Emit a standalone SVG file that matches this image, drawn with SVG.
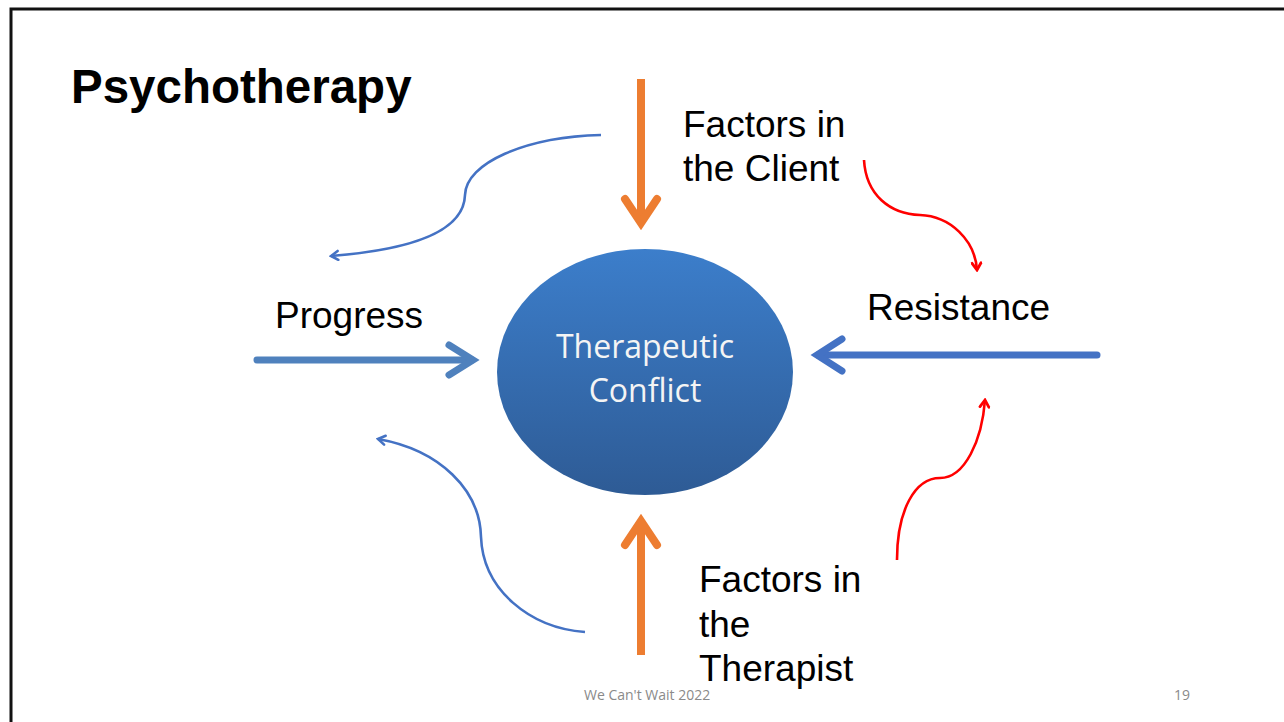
<svg xmlns="http://www.w3.org/2000/svg" width="1284" height="722" viewBox="0 0 1284 722">
  <defs>
    <linearGradient id="ballFill" x1="0" y1="0" x2="0" y2="1">
      <stop offset="0" stop-color="#3C7ECB"/>
      <stop offset="1" stop-color="#2E5B95"/>
    </linearGradient>
    <marker id="headBlue" viewBox="0 0 12 12" refX="10" refY="6" markerWidth="12" markerHeight="12" markerUnits="userSpaceOnUse" orient="auto">
      <polyline points="3,1.5 10,6 3,10.5" fill="none" stroke="#4472C4" stroke-width="2.6" stroke-linecap="round" stroke-linejoin="miter"/>
    </marker>
    <marker id="headRed" viewBox="0 0 12 12" refX="10" refY="6" markerWidth="12" markerHeight="12" markerUnits="userSpaceOnUse" orient="auto">
      <polyline points="3,1.5 10,6 3,10.5" fill="none" stroke="#FF0000" stroke-width="2.8" stroke-linecap="round" stroke-linejoin="miter"/>
    </marker>
  </defs>
  <style>
    .lbl { font-family: "Liberation Sans", Arial, sans-serif; font-size: 37px; fill: #000; }
    .title { font-family: "Liberation Sans", Arial, sans-serif; font-size: 47.5px; font-weight: bold; fill: #000; }
    .inner { font-family: "Open Sans", "Noto Sans", sans-serif; font-size: 32px; fill: #F4F4F4; text-anchor: middle; }
    .foot { font-family: "Open Sans", "Noto Sans", sans-serif; font-size: 14px; fill: #8A8A8A; }
    .thick { fill: none; stroke-width: 7; stroke-linecap: round; stroke-linejoin: miter; }
    .orange { stroke: #ED7D31; stroke-width: 8; }
    .thin { fill: none; stroke-width: 2.6; }
  </style>

  <rect width="1284" height="722" fill="#FFFFFF"/>
  <!-- slide frame -->
  <path d="M11,722 V9 H1284" fill="none" stroke="#111" stroke-width="3"/>

  <text class="title" x="71" y="103">Psychotherapy</text>

  <g id="conflict">
    <ellipse cx="645" cy="372" rx="148" ry="123" fill="url(#ballFill)"/>
    <text class="inner" x="645" y="358">Therapeutic</text>
    <text class="inner" x="645" y="402">Conflict</text>
  </g>

  <g id="client">
    <text class="lbl" x="683" y="137">Factors in</text>
    <text class="lbl" x="683" y="181">the Client</text>
  </g>

  <g id="therapist">
    <text class="lbl" x="699" y="592">Factors in</text>
    <text class="lbl" x="699" y="637">the</text>
    <text class="lbl" x="699" y="681">Therapist</text>
  </g>

  <g id="progress">
    <text class="lbl" x="275" y="328">Progress</text>
  </g>

  <g id="resistance">
    <text class="lbl" x="867" y="320">Resistance</text>
  </g>

  <g id="connectors">
    <!-- client factors into the conflict -->
    <line class="orange" x1="641" y1="79" x2="641" y2="224" stroke-linecap="butt"/>
    <polyline class="thick orange" points="625,199 641,223 657,199"/>
    <!-- therapist factors into the conflict -->
    <line class="orange" x1="641" y1="655" x2="641" y2="520" stroke-linecap="butt"/>
    <polyline class="thick orange" points="625,545 641,521 657,545"/>
    <!-- progress into the conflict -->
    <line class="thick" stroke="#4F81BD" x1="257" y1="360" x2="472" y2="360" stroke-linecap="butt"/>
    <polyline class="thick" stroke="#4F81BD" points="449,345 473,360 449,375"/>
    <!-- resistance into the conflict -->
    <line class="thick" stroke="#4472C4" x1="1097" y1="355" x2="818" y2="355" stroke-linecap="butt"/>
    <polyline class="thick" stroke="#4472C4" points="842,339 817,355 842,371"/>
    <!-- curved blue arrows toward progress -->
    <path class="thin" stroke="#4472C4" marker-end="url(#headBlue)" d="M601,135 C525,137 466,163 465,195 C464,228 420,249 331,256"/>
    <path class="thin" stroke="#4472C4" marker-end="url(#headBlue)" d="M585,632 C530,628 483,590 481,537 C480,490 440,450 378,439"/>
    <!-- curved red arrows toward resistance -->
    <path class="thin" stroke="#FF0000" stroke-width="2.8" marker-end="url(#headRed)" d="M864,160 C866,195 890,214 920,215 C950,216 975,240 977,270"/>
    <path class="thin" stroke="#FF0000" stroke-width="2.8" marker-end="url(#headRed)" d="M897,560 C897,510 915,478 940,478 C965,478 982,440 985,400"/>
  </g>

  <text class="foot" x="584" y="700">We Can't Wait 2022</text>
  <text class="foot" x="1174" y="700">19</text>
</svg>
